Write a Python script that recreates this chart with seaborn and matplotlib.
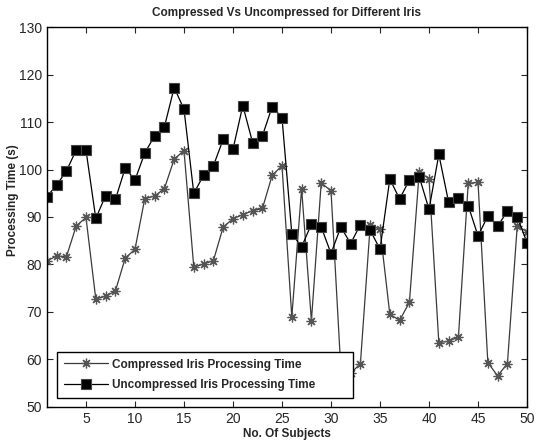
import numpy as np
import pandas as pd
import seaborn as sns
import matplotlib
matplotlib.use('Agg')
import matplotlib.pyplot as plt

subjects = list(range(1, 51))

compressed = [80.7, 81.8, 81.6, 88.1, 89.9, 72.7, 73.3, 74.4, 81.3, 83.2,
              93.9, 94.4, 96.0, 102.2, 104.0, 79.4, 80.1, 80.8, 87.9, 89.6,
              90.5, 91.3, 91.8, 98.8, 100.8, 68.9, 96.0, 68.1, 97.2, 95.5,
              58.0, 57.0, 59.1, 88.3, 87.4, 69.5, 68.2, 72.0, 99.5, 98.1,
              63.5, 63.8, 64.7, 97.1, 97.3, 59.3, 56.5, 59.1, 88.1, 86.9]

uncompressed = [94.3, 96.7, 99.7, 104.1, 104.1, 89.7, 94.5, 93.7, 100.3, 97.8,
                103.5, 107.1, 109.0, 117.3, 112.7, 95.0, 98.8, 100.8, 106.4, 104.3,
                113.5, 105.7, 107.1, 113.3, 110.9, 86.5, 83.7, 88.5, 87.9, 82.3,
                87.9, 84.4, 88.4, 87.2, 83.2, 98.0, 93.8, 97.8, 98.5, 91.6,
                103.2, 93.1, 94.1, 92.4, 86.0, 90.2, 88.1, 91.2, 90.0, 84.6]

x_ticks = list(range(5, 51, 5))
y_ticks = list(range(50, 131, 10))

sns.set_style('ticks')
plt.rcParams['font.family'] = ['Liberation Sans', 'DejaVu Sans']

fig = plt.figure(figsize=(5.39, 4.47), dpi=100)
ax = fig.add_axes([0.0868, 0.0902, 0.891, 0.8487])

df = pd.DataFrame({'subject': subjects, 'compressed': compressed,
                   'uncompressed': uncompressed})

sns.lineplot(data=df, x='subject', y='compressed', ax=ax, color='#3a3a3a',
             linewidth=0.9, marker=(8, 2, 0), markersize=7,
             markeredgecolor='#555555', markeredgewidth=0.9,
             label='Compressed Iris Processing Time')
sns.lineplot(data=df, x='subject', y='uncompressed', ax=ax, color='black',
             linewidth=0.9, marker='s', markersize=6.8,
             markerfacecolor='black', markeredgecolor='#444444',
             markeredgewidth=0.8,
             label='Uncompressed Iris Processing Time')

ax.set_xlim(1, 50)
ax.set_ylim(50, 130)
ax.set_xticks(x_ticks)
ax.set_yticks(y_ticks)
ax.tick_params(direction='in', top=True, right=True, labelsize=10,
               length=4.5, width=0.8)
for s in ax.spines.values():
    s.set_linewidth(1.0)
    s.set_color('black')

ax.set_title('Compressed Vs Uncompressed for Different Iris',
             fontsize=8.5, fontweight='bold', pad=8)
ax.set_xlabel('No. Of Subjects', fontsize=8.5, fontweight='bold', labelpad=2)
ax.set_ylabel('Processing Time (s)', fontsize=8.5, fontweight='bold')
ax.yaxis.set_label_coords(-0.057, 0.545)

# legend box stretched like the matlab one
leg = ax.legend(loc='lower left', bbox_to_anchor=(0.022, 0.023, 0.616, 0.12),
                mode='expand', borderaxespad=0, frameon=True,
                fancybox=False, edgecolor='black', framealpha=1,
                prop={'size': 8.5, 'weight': 'bold'}, handlelength=3.7,
                handletextpad=0.4, borderpad=0.55, labelspacing=0.75)
leg.get_frame().set_linewidth(1.0)
leg.set_zorder(10)

fig.savefig('out.png', dpi=100)
